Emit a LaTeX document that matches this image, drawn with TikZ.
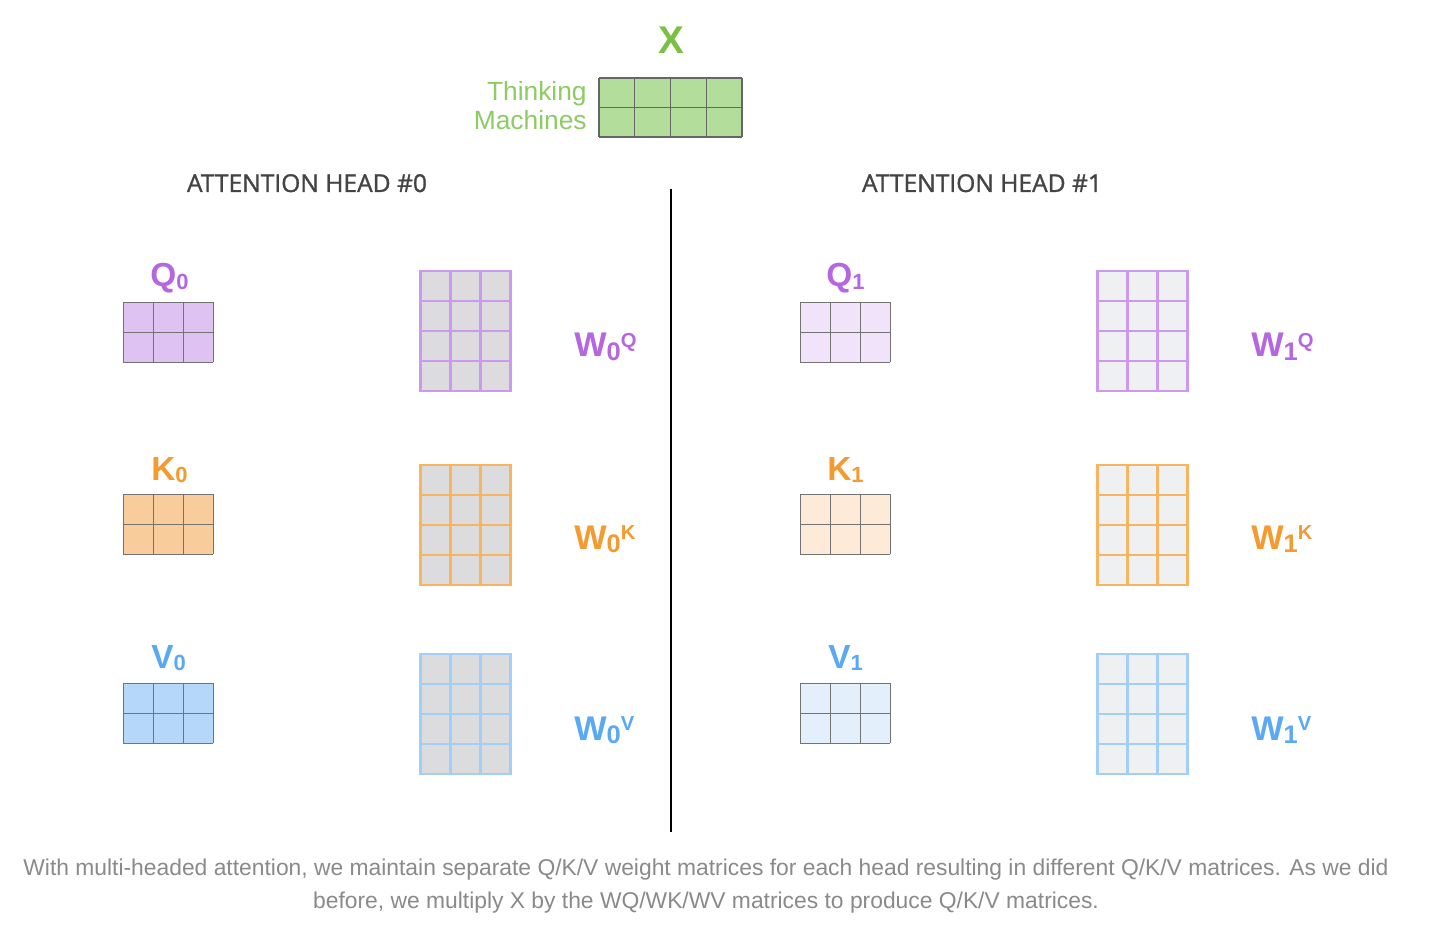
\documentclass[tikz,border=0pt]{standalone}
\usepackage{fontspec}
\setmainfont{Liberation Sans}
\newfontfamily\headfont[FakeBold=1.2]{Open Sans}
\usetikzlibrary{positioning}
\definecolor{xgreen}{HTML}{7AC143}
\definecolor{wordgreen}{HTML}{8DCB63}
\definecolor{xfill}{HTML}{B2DD9B}
\definecolor{qtext}{HTML}{B467E0}
\definecolor{ktext}{HTML}{F59A2E}
\definecolor{vtext}{HTML}{5AA9F5}
\definecolor{qfillA}{HTML}{DEC2F2}
\definecolor{kfillA}{HTML}{F9CC9B}
\definecolor{vfillA}{HTML}{B4D7FA}
\definecolor{qfillB}{HTML}{F1E4FA}
\definecolor{kfillB}{HTML}{FEEBD7}
\definecolor{vfillB}{HTML}{E4EFFC}
\definecolor{qline}{HTML}{CC99EE}
\definecolor{kline}{HTML}{F8B560}
\definecolor{vline}{HTML}{A3CEF8}
\definecolor{wfillA}{HTML}{DCDCDE}
\definecolor{wfillB}{HTML}{EFF0F2}
\definecolor{headgray}{HTML}{444444}
\definecolor{captiongray}{HTML}{8A8A8A}

% left, top, columns, rows, fill, line colour, line width
\newcommand{\cellgrid}[7]{%
  \fill[#5] (#1,#2) rectangle (#1+#3*30,#2+#4*30);
  \foreach \c in {0,...,#3} \draw[#6,line width=#7,line cap=rect] (#1+\c*30,#2) -- (#1+\c*30,#2+#4*30);
  \foreach \r in {0,...,#4} \draw[#6,line width=#7,line cap=rect] (#1,#2+\r*30) -- (#1+#3*30,#2+\r*30);
}
% index of a small matrix name, and of a weight matrix name
\newcommand{\vidx}[1]{{\fontsize{12.5}{13}\selectfont\raisebox{-1.5pt}{#1}}}
\newcommand{\widx}[2]{{\fontsize{14.5}{15}\selectfont\raisebox{-1.8pt}{#1}}{\fontsize{11.5}{12}\selectfont\raisebox{5.5pt}{#2}}}

\tikzset{
  xlabel/.style={anchor=base,inner sep=0pt,text=xgreen,font=\fontsize{22}{26}\selectfont\bfseries},
  wordlabel/.style={anchor=base east,inner sep=0pt,text=wordgreen,font=\fontsize{15}{18}\selectfont},
  headlabel/.style={anchor=base,inner sep=0pt,text=headgray,font=\headfont\fontsize{14}{17}\selectfont},
  veclabel/.style={anchor=base west,inner sep=0pt,font=\fontsize{19}{22}\selectfont\bfseries},
  wlabel/.style={anchor=base west,inner sep=0pt,font=\fontsize{19.5}{23}\selectfont\bfseries},
  captionline/.style={anchor=base,inner sep=0pt,text=captiongray,font=\fontsize{13}{16}\selectfont}
}

\begin{document}
\begin{tikzpicture}[x=0.02cm,y=-0.02cm]
  \useasboundingbox[fill=white] (0,0) rectangle (1449,935);

  % input X
  \node[xlabel] (xname) at (671,54) {X};
  \fill[xfill] (599,78) rectangle (742,137);
  \foreach \c in {0,...,4} \draw[black!60,line width=0.6pt] (599+\c*35.75,78) -- (599+\c*35.75,137);
  \foreach \r in {0,1,2} \draw[black!60,line width=0.6pt] (599,78+\r*29.5) -- (742,78+\r*29.5);
  \node[wordlabel] (think) at (587,101) {Thinking};
  \node[wordlabel] (mach) at (587,130) {Machines};

  % heads
  \node[headlabel] (headA) at (307,192) {ATTENTION HEAD \#0};
  \node[headlabel] (headB) at (982,192) {ATTENTION HEAD \#1};
  \coordinate (divtop) at (671,189);
  \coordinate (divbot) at (671,832);
  \draw[black,line width=1.2pt] (divtop) -- (divbot);

  % head 0
  \cellgrid{123}{302}{3}{2}{qfillA}{black!55}{0.5pt}
  \cellgrid{123}{494}{3}{2}{kfillA}{black!55}{0.5pt}
  \cellgrid{123}{683}{3}{2}{vfillA}{black!55}{0.5pt}
  \node[veclabel,text=qtext] (qA) at (150,287) {Q\vidx{0}};
  \node[veclabel,text=ktext] (kA) at (151,480) {K\vidx{0}};
  \node[veclabel,text=vtext] (vA) at (151,668) {V\vidx{0}};
  \cellgrid{420}{271}{3}{4}{wfillA}{qline}{1.7pt}
  \cellgrid{420}{465}{3}{4}{wfillA}{kline}{1.7pt}
  \cellgrid{420}{654}{3}{4}{wfillA}{vline}{1.7pt}
  \node[wlabel,text=qtext] (wqA) at (574,357) {W\widx{0}{Q}};
  \node[wlabel,text=ktext] (wkA) at (574,549) {W\widx{0}{K}};
  \node[wlabel,text=vtext] (wvA) at (574,740) {W\widx{0}{V}};

  % head 1
  \cellgrid{800}{302}{3}{2}{qfillB}{black!55}{0.5pt}
  \cellgrid{800}{494}{3}{2}{kfillB}{black!55}{0.5pt}
  \cellgrid{800}{683}{3}{2}{vfillB}{black!55}{0.5pt}
  \node[veclabel,text=qtext] (qB) at (826,287) {Q\vidx{1}};
  \node[veclabel,text=ktext] (kB) at (827,480) {K\vidx{1}};
  \node[veclabel,text=vtext] (vB) at (828,668) {V\vidx{1}};
  \cellgrid{1097}{271}{3}{4}{wfillB}{qline}{1.7pt}
  \cellgrid{1097}{465}{3}{4}{wfillB}{kline}{1.7pt}
  \cellgrid{1097}{654}{3}{4}{wfillB}{vline}{1.7pt}
  \node[wlabel,text=qtext] (wqB) at (1251,357) {W\widx{1}{Q}};
  \node[wlabel,text=ktext] (wkB) at (1251,549) {W\widx{1}{K}};
  \node[wlabel,text=vtext] (wvB) at (1251,740) {W\widx{1}{V}};

  % caption
  \node[captionline] (capA) at (706,875) {With multi-headed attention, we maintain separate Q/K/V weight matrices for each head resulting in different Q/K/V matrices. As we did};
  \node[captionline] (capB) at (706,908) {before, we multiply X by the WQ/WK/WV matrices to produce Q/K/V matrices.};
\end{tikzpicture}
\end{document}
